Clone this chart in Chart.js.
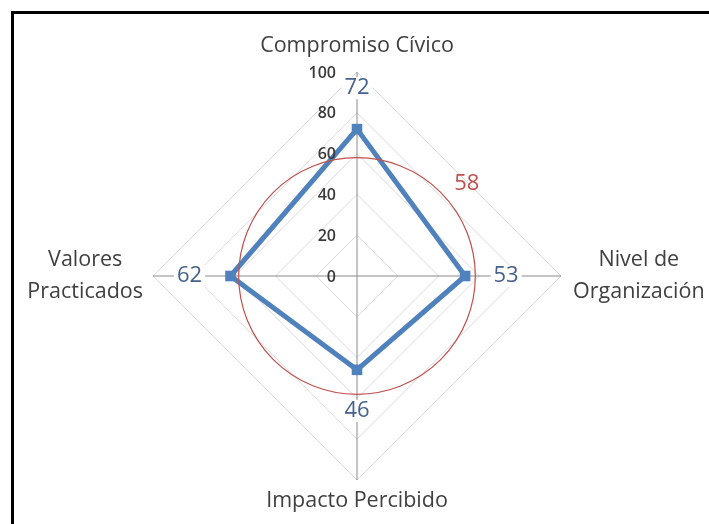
<!DOCTYPE html>
<html>
<head>
<meta charset="utf-8">
<title>Radar</title>
<script src="https://cdn.jsdelivr.net/npm/chart.js@4.4.1/dist/chart.umd.min.js"></script>
<style>
  html, body { margin: 0; padding: 0; background: #fff; overflow: hidden; }
  #wrap { position: relative; width: 709px; height: 524px; }
  #frame {
    position: absolute; left: 11px; top: 11px; width: 700px; height: 520px;
    border-top: 3px solid #000; border-left: 3px solid #000; pointer-events: none;
  }
</style>
</head>
<body>
<div id="wrap">
  <canvas id="myChart" width="709" height="524"></canvas>
  <div id="frame"></div>
</div>
<script>
const categories = [
  ["Compromiso Cívico"],
  ["Nivel de", "Organización"],
  ["Impacto Percibido"],
  ["Valores", "Practicados"]
];
const scores = [72, 53, 46, 62];
const average = 58;
const tickValues = [0, 20, 40, 60, 80, 100];

const FONT = "'Open Sans', sans-serif";
const TEXT = "#404040";
const BLUE = "#4f81bd";
const LABEL_BLUE = "#46628c";
const RED = "#c0504d";

// extra drawing: average ring, tick labels, value labels and axis names
const decor = {
  id: "decor",
  afterDatasetsDraw(chart) {
    const ctx = chart.ctx;
    const r = chart.scales.r;
    const cx = r.xCenter, cy = r.yCenter;

    ctx.save();

    // average ring
    ctx.beginPath();
    ctx.arc(cx, cy, r.getDistanceFromCenterForValue(average), 0, Math.PI * 2);
    ctx.strokeStyle = RED;
    ctx.lineWidth = 1.2;
    ctx.stroke();

    // scale numbers, right-aligned left of the vertical axis
    ctx.font = "600 16px " + FONT;
    ctx.fillStyle = "#3a3a3a";
    ctx.textAlign = "right";
    ctx.textBaseline = "middle";
    tickValues.forEach(v => {
      ctx.fillText(String(v), cx - 21, cy - r.getDistanceFromCenterForValue(v) + 1);
    });

    // value labels along each axis
    ctx.font = "22px " + FONT;
    ctx.textAlign = "center";
    scores.forEach((v, i) => {
      const p = r.getPointPosition(i, r.getDistanceFromCenterForValue(v) + 41);
      const w = ctx.measureText(String(v)).width;
      ctx.fillStyle = "#fff";
      ctx.fillRect(p.x - w / 2 - 3, p.y - 11, w + 6, 22);
      ctx.fillStyle = LABEL_BLUE;
      ctx.fillText(String(v), p.x, p.y);
    });

    // average label, upper right of the ring
    const ang = -40 * Math.PI / 180;
    const ad = r.getDistanceFromCenterForValue(average) + 25;
    ctx.fillStyle = RED;
    ctx.fillText(String(average), cx + Math.cos(ang) * ad, cy + Math.sin(ang) * ad);

    // axis names, lines centred inside each block
    ctx.font = "21.5px " + FONT;
    ctx.fillStyle = TEXT;
    const lh = 32;
    categories.forEach((lines, i) => {
      const tip = r.getPointPosition(i, r.drawingArea);
      const bw = Math.max(...lines.map(s => ctx.measureText(s).width));
      const bh = lines.length * lh;
      let bx, by;
      if (i === 0) { bx = tip.x; by = tip.y - 26 - (bh - lh); }
      else if (i === 2) { bx = tip.x; by = tip.y + 21; }
      else if (i === 1) { bx = tip.x + 12 + bw / 2; by = tip.y - bh / 2 + lh / 2; }
      else { bx = tip.x - 10 - bw / 2; by = tip.y - bh / 2 + lh / 2; }
      lines.forEach((s, k) => ctx.fillText(s, bx, by + k * lh));
    });

    ctx.restore();
  }
};

const data = {
  labels: categories,
  datasets: [
    {
      label: "Puntaje",
      data: scores,
      borderColor: BLUE,
      borderWidth: 5,
      borderJoinStyle: "round",
      backgroundColor: BLUE,
      fill: false,
      pointStyle: "rect",
      pointRadius: 7.5,
      pointBorderWidth: 0,
      pointBackgroundColor: BLUE,
    },
  ],
};

const config = {
  type: "radar",
  data: data,
  options: {
    responsive: false,
    animation: false,
    layout: {
      padding: { left: 153, right: 148, top: 72, bottom: 44 }
    },
    plugins: {
      legend: { display: false },
      tooltip: { enabled: false }
    },
    scales: {
      r: {
        min: 0,
        max: 100,
        ticks: { stepSize: 20, display: false },
        grid: { color: "#d9d9d9", lineWidth: 1 },
        angleLines: { color: "#8a8a8a", lineWidth: 1 },
        pointLabels: { display: false }
      }
    }
  },
  plugins: [decor]
};

const myChart = new Chart(document.getElementById("myChart"), config);
</script>
</body>
</html>
